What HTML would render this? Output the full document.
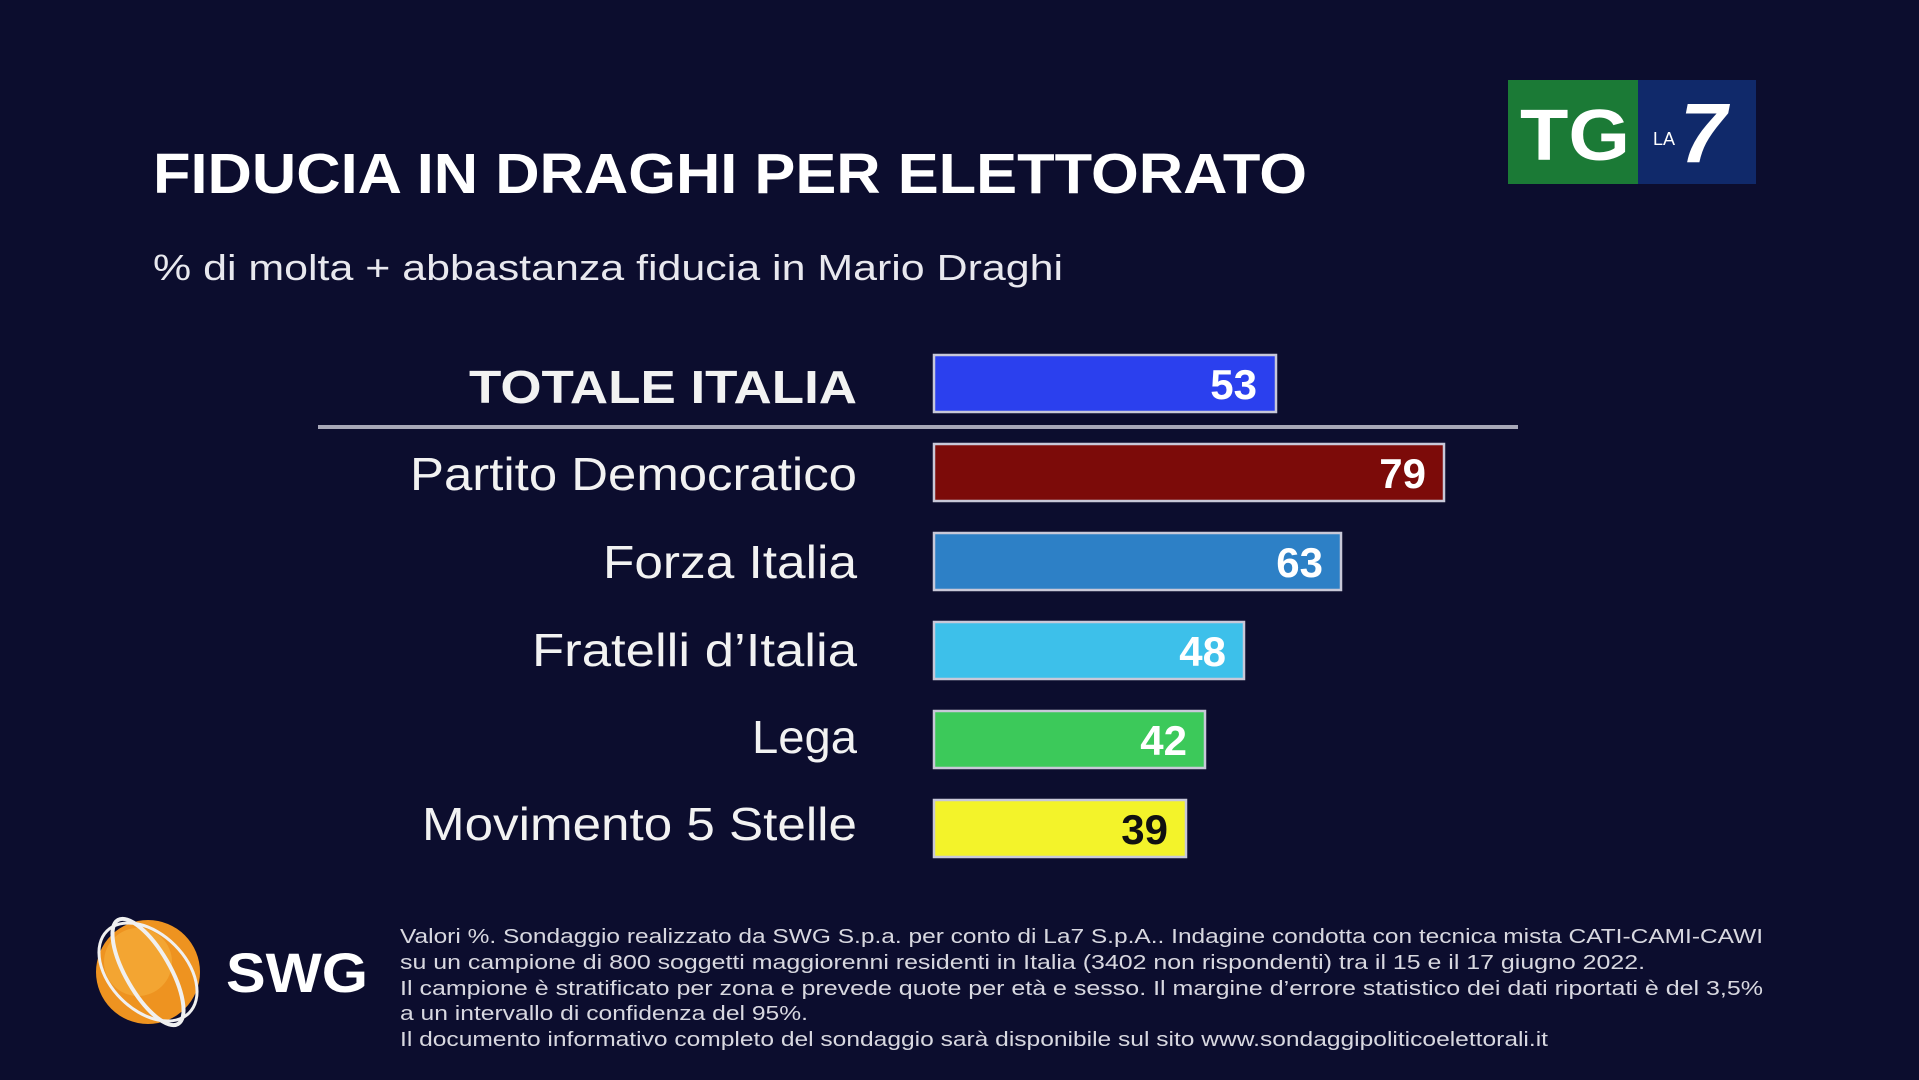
<!DOCTYPE html>
<html><head><meta charset="utf-8"><style>
html,body{margin:0;padding:0;background:#0c0d2e;}
svg{display:block;}
text{font-family:"Liberation Sans",sans-serif;}
</style></head><body>
<svg width="1919" height="1080" viewBox="0 0 1919 1080" xmlns="http://www.w3.org/2000/svg">
<rect width="1919" height="1080" fill="#0c0d2e"/>
<!-- TG LA7 logo -->
<rect x="1508" y="80" width="130" height="104" fill="#1b7a36"/>
<rect x="1638" y="80" width="118" height="104" fill="#10296a"/>
<text x="1520" y="160" font-size="72" font-weight="bold" fill="#fff" textLength="110" lengthAdjust="spacingAndGlyphs">TG</text>
<text x="1653" y="145" font-size="18" fill="#fff">LA</text>
<text x="1680" y="162" font-size="84" font-weight="bold" font-style="italic" fill="#fff">7</text>
<!-- Title -->
<text x="153" y="193" font-size="57" font-weight="bold" fill="#fff" textLength="1154" lengthAdjust="spacingAndGlyphs">FIDUCIA IN DRAGHI PER ELETTORATO</text>
<text x="153" y="280" font-size="36" fill="#e8e8ee" textLength="910" lengthAdjust="spacingAndGlyphs">% di molta + abbastanza fiducia in Mario Draghi</text>
<!-- separator -->
<rect x="318" y="425" width="1200" height="4" fill="#a8a8b8"/>
<!-- labels -->
<g font-size="46" fill="#f2f2f2" text-anchor="end">
<text x="857" y="403" font-weight="bold" font-size="46" textLength="388" lengthAdjust="spacingAndGlyphs">TOTALE ITALIA</text>
<text x="857" y="490" textLength="447" lengthAdjust="spacingAndGlyphs">Partito Democratico</text>
<text x="857" y="578" textLength="254" lengthAdjust="spacingAndGlyphs">Forza Italia</text>
<text x="857" y="666" textLength="325" lengthAdjust="spacingAndGlyphs">Fratelli d’Italia</text>
<text x="857" y="753" textLength="105" lengthAdjust="spacingAndGlyphs">Lega</text>
<text x="857" y="840" textLength="435" lengthAdjust="spacingAndGlyphs">Movimento 5 Stelle</text>
</g>
<!-- bars -->
<g stroke="#c8c8d8" stroke-width="2.5">
<rect x="934" y="355" width="342" height="57" fill="#2b40ee"/>
<rect x="934" y="444" width="510" height="57" fill="#7c0b09"/>
<rect x="934" y="533" width="407" height="57" fill="#2d80c6"/>
<rect x="934" y="622" width="310" height="57" fill="#3dc0ea"/>
<rect x="934" y="711" width="271" height="57" fill="#3cc95a"/>
<rect x="934" y="800" width="252" height="57" fill="#f3f32a"/>
</g>
<g font-size="42" font-weight="bold" fill="#fff" text-anchor="end">
<text x="1257" y="399">53</text>
<text x="1426" y="488">79</text>
<text x="1323" y="577">63</text>
<text x="1226" y="666">48</text>
<text x="1187" y="755">42</text>
<text x="1168" y="844" fill="#111">39</text>
</g>
<!-- SWG logo -->
<circle cx="148" cy="972" r="52" fill="#ee9320"/>
<circle cx="138" cy="962" r="34" fill="#f6b040" opacity="0.6"/>
<g fill="none" stroke="#f0f0f0" stroke-width="4">
<ellipse cx="148" cy="972" rx="60" ry="22" transform="rotate(60 148 972)"/>
<ellipse cx="148" cy="972" rx="58" ry="38" transform="rotate(45 148 972)" stroke-width="3"/>
</g>
<text x="226" y="992" font-size="56" font-weight="bold" fill="#fff" textLength="142" lengthAdjust="spacingAndGlyphs">SWG</text>
<!-- footer -->
<g font-size="20" fill="#d8d8e0">
<text x="400" y="943" textLength="1363" lengthAdjust="spacingAndGlyphs">Valori %. Sondaggio realizzato da SWG S.p.a. per conto di La7 S.p.A.. Indagine condotta con tecnica mista CATI-CAMI-CAWI</text>
<text x="400" y="969" textLength="1245" lengthAdjust="spacingAndGlyphs">su un campione di 800 soggetti maggiorenni residenti in Italia (3402 non rispondenti) tra il 15 e il 17 giugno 2022.</text>
<text x="400" y="995" textLength="1363" lengthAdjust="spacingAndGlyphs">Il campione è stratificato per zona e prevede quote per età e sesso. Il margine d’errore statistico dei dati riportati è del 3,5%</text>
<text x="400" y="1020" textLength="408" lengthAdjust="spacingAndGlyphs">a un intervallo di confidenza del 95%.</text>
<text x="400" y="1046" textLength="1148" lengthAdjust="spacingAndGlyphs">Il documento informativo completo del sondaggio sarà disponibile sul sito www.sondaggipoliticoelettorali.it</text>
</g>
</svg>
</body></html>
